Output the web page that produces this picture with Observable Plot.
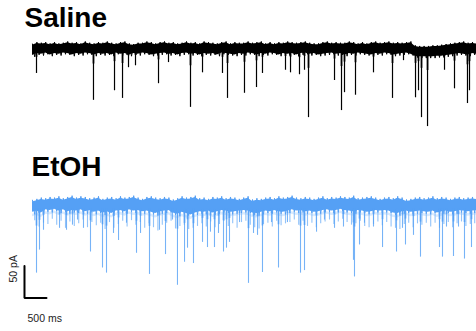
<!DOCTYPE html>
<html>
<head>
<meta charset="utf-8">
<script src="https://cdn.jsdelivr.net/npm/d3@7"></script>
<script src="https://cdn.jsdelivr.net/npm/@observablehq/plot@0.6"></script>
<style>
  html, body { margin: 0; padding: 0; background: #fff; }
  svg { display: block; }
</style>
</head>
<body>
<div id="chart"></div>
<script>
// ---- Data (time in ms, current in pA relative to each trace's baseline) ----
const conditions = ["Saline", "EtOH"];

// noise envelope sampled every 100 ms (0 … 10100 ms)
const envTime = [0,100,200,300,400,500,600,700,800,900,1000,1100,1200,1300,1400,1500,1600,1700,1800,1900,2000,2100,2200,2300,2400,2500,2600,2700,2800,2900,3000,3100,3200,3300,3400,3500,3600,3700,3800,3900,4000,4100,4200,4300,4400,4500,4600,4700,4800,4900,5000,5100,5200,5300,5400,5500,5600,5700,5800,5900,6000,6100,6200,6300,6400,6500,6600,6700,6800,6900,7000,7100,7200,7300,7400,7500,7600,7700,7800,7900,8000,8100,8200,8300,8400,8500,8600,8700,8800,8900,9000,9100,9200,9300,9400,9500,9600,9700,9800,9900,10000,10100];

const salineTop = [7,10,9,10,8,10,8,9,11,9, 10,8,11,9,8,10,9,11,9,8, 10,11,8,7,9,9,11,10,8,10, 11,9,10,8,9,11,9,10,8,11, 10,9,8,10,11,8,10,9,9,11, 9,10,11,8,10,8,10,9,11,10, 9,10,11,9,8,8,10,11,9,10, 9,9,11,10,8,10,8,10,11,9, 10,11,9,10,9,10,11,5,4,4, 4,5,5,6,7,8,9,10,11,9, 10,9];
const salineBot = [-13,-10,-11,-9,-12,-10,-11,-9,-10,-12, -10,-11,-9,-10,-12,-10,-11,-10,-12,-9, -11,-10,-12,-10,-11,-9,-10,-12,-11,-10, -9,-11,-10,-12,-10,-9,-11,-10,-12,-10, -11,-10,-12,-9,-10,-11,-12,-10,-11,-9, -10,-12,-10,-11,-9,-10,-12,-10,-11,-10, -12,-10,-9,-11,-10,-12,-11,-10,-9,-11, -10,-12,-10,-11,-9,-10,-11,-12,-10,-11, -9,-10,-12,-11,-10,-9,-11,-14,-15,-15, -15,-15,-14,-14,-13,-12,-11,-10,-11,-12, -10,-11];

const etohTop = [8,10,12,11,13,12,14,11,13,15, 12,14,13,11,12,14,10,12,13,11, 14,12,13,15,12,10,13,14,12,11, 13,12,9,11,14,12,13,15,11,12, 10,13,12,14,11,13,12,10,12,14, 9,11,10,12,13,11,14,12,13,15, 12,11,13,12,10,12,14,11,13,12, 14,13,12,15,11,12,13,14,12,10, 12,13,11,14,12,9,10,12,13,11, 12,14,11,13,12,10,12,13,11,12, 13,12];
const etohBot = [-14,-12,-15,-10,-11,-9,-12,-10,-13,-11, -12,-10,-13,-11,-14,-12,-15,-13,-16,-12, -11,-13,-10,-12,-11,-13,-12,-14,-16,-13, -12,-11,-15,-17,-14,-16,-18,-15,-13,-14, -12,-15,-13,-11,-12,-14,-13,-12,-11,-12, -15,-16,-14,-12,-13,-11,-13,-14,-12,-10, -12,-11,-13,-12,-14,-13,-11,-10,-12,-11, -9,-11,-12,-13,-11,-12,-14,-13,-11,-12, -11,-12,-15,-16,-13,-12,-14,-13,-12,-13, -14,-12,-15,-13,-12,-14,-13,-11,-12,-13, -12,-11];
const etohFringe = [-24,-34,-28,-30,-22,-31,-25,-36,-26,-33, -29,-23,-35,-27,-32,-28,-38,-27,-36,-30, -25,-34,-24,-31,-27,-36,-29,-35,-40,-31, -28,-25,-37,-33,-31,-38,-36,-33,-29,-34, -26,-35,-30,-25,-33,-29,-36,-27,-25,-31, -35,-37,-30,-28,-34,-25,-32,-29,-27,-23, -31,-25,-33,-28,-35,-29,-26,-23,-30,-26, -22,-27,-31,-29,-25,-33,-35,-30,-26,-32, -27,-34,-36,-38,-30,-28,-35,-29,-31,-28, -34,-28,-36,-30,-27,-35,-29,-26,-33,-30, -29,-25];

const salineEventTime = [91,1386,1864,2046,2182,2341,2864,3091,3591,3864,4318,4432,4818,5091,5227,5750,5864,6068,6182,6273,6864,7023,7091,7341,7750,8182,8432,8705,8773,8841,8978,9364,9591,9886,9932];
const salineEventAmp  = [-39,-81,-66,-78,-30,-27,-55,-22,-92,-38,-39,-78,-70,-61,-39,-34,-38,-41,-34,-108,-50,-97,-69,-73,-38,-78,-19,-77,-66,-108,-122,-34,-63,-86,-66];

const etohEventTime = [91,159,250,614,773,909,1023,1159,1318,1591,1682,1841,1955,2136,2364,2455,2659,2886,3023,3182,3295,3455,3523,3659,3864,3977,4045,4136,4227,4341,4409,4477,4705,4909,5023,5114,5227,5432,5591,5795,6091,6182,6455,6636,6864,7068,7295,7318,7432,7545,7750,7955,8273,8409,8477,8659,8818,9250,9318,9409,9568,9682,9818,9977];
const etohEventAmp  = [-106,-70,-39,-36,-39,-31,-23,-36,-73,-98,-106,-44,-55,-28,-75,-44,-108,-39,-77,-23,-125,-89,-67,-91,-58,-66,-42,-66,-44,-73,-67,-58,-27,-122,-44,-47,-105,-27,-98,-27,-106,-102,-42,-23,-36,-34,-86,-112,-62,-28,-34,-66,-73,-36,-62,-47,-81,-66,-81,-34,-80,-34,-84,-66];

const scaleBarTime = 500;   // ms
const scaleBarCurrent = 50; // pA
const scaleBarLabels = ["500 ms", "50 pA"];

// ---- Layout (vertical offsets of each trace, in pA units of the shared y scale) ----
const offset = {Saline: 0, EtOH: -245};
const barOrigin = {t: -182, v: -390};
const half = 50; // half-step for the noise zig-zag

const envSaline = envTime.map((t, i) => ({t, top: salineTop[i] + offset.Saline, bot: salineBot[i] + offset.Saline}));
const envEtoh = envTime.map((t, i) => ({t, top: etohTop[i] + offset.EtOH, bot: etohBot[i] + offset.EtOH, fr: etohFringe[i] + offset.EtOH}));
const zigSaline = envSaline.flatMap(d => [{t: d.t, v: d.top}, {t: d.t + half, v: d.bot}]);
const zigEtoh = envEtoh.flatMap(d => [{t: d.t, v: d.top}, {t: d.t + half, v: d.bot}]);
const evSaline = salineEventTime.map((t, i) => ({t, base: offset.Saline - 4, amp: salineEventAmp[i], peak: salineEventAmp[i] + offset.Saline}));
const evEtoh = etohEventTime.map((t, i) => ({t, base: offset.EtOH - 6, amp: etohEventAmp[i], peak: etohEventAmp[i] + offset.EtOH}));

const bar = [
  {t: barOrigin.t, v: barOrigin.v + scaleBarCurrent},
  {t: barOrigin.t, v: barOrigin.v},
  {t: barOrigin.t + scaleBarTime, v: barOrigin.v}
];

const black = "#000";
const blue = "#55a0f5";
const midBlue = "#7fb8f8";
const lightBlue = "#b4d6fb";

const chart = Plot.plot({
  width: 476,
  height: 331,
  margin: 0,
  x: {domain: [0, 10000], range: [32, 472], axis: null},
  y: {domain: [75, -442.2], range: [0, 331], axis: null},
  style: {fontFamily: "Liberation Sans, Arial, sans-serif", background: "#fff"},
  marks: [
    // Saline trace
    Plot.areaY(envSaline, {x: "t", y1: d => d.bot + 2, y2: d => d.top - 2, fill: black, curve: "linear"}),
    Plot.line(zigSaline, {x: "t", y: "v", stroke: black, strokeWidth: 1, curve: "linear"}),
    Plot.ruleX(evSaline, {x: "t", y1: "base", y2: d => d.base + d.amp * 0.25, stroke: black, strokeWidth: 1.7}),
    Plot.ruleX(evSaline, {x: "t", y1: "base", y2: "peak", stroke: black, strokeWidth: 1.2}),
    // EtOH trace
    Plot.areaY(envEtoh, {x: "t", y1: d => d.bot - 4, y2: "bot", fill: lightBlue, fillOpacity: 0.5, curve: "linear"}),
    Plot.ruleX(envEtoh, {x: d => d.t + half, y1: "bot", y2: "fr", stroke: midBlue, strokeWidth: 1.1, strokeOpacity: 0.85}),
    Plot.areaY(envEtoh, {x: "t", y1: d => d.bot + 3, y2: d => d.top - 3, fill: blue, curve: "linear"}),
    Plot.line(zigEtoh, {x: "t", y: "v", stroke: blue, strokeWidth: 1, curve: "linear"}),
    Plot.ruleX(evEtoh, {x: "t", y1: "base", y2: d => d.base + d.amp * 0.25, stroke: blue, strokeWidth: 1.6, strokeOpacity: 0.9}),
    Plot.ruleX(evEtoh, {x: "t", y1: "base", y2: "peak", stroke: blue, strokeWidth: 1.1, strokeOpacity: 0.8}),
    // Scale bar
    Plot.line(bar, {x: "t", y: "v", stroke: black, strokeWidth: 2, strokeLinejoin: "miter"}),
    Plot.text([scaleBarLabels[0]], {frameAnchor: "top-left", dx: 27, dy: 318, lineAnchor: "middle", text: d => d, textAnchor: "start", fontSize: 10.5, fill: "#222"}),
    Plot.text([scaleBarLabels[1]], {frameAnchor: "top-left", dx: 13, dy: 282, lineAnchor: "middle", text: d => d, rotate: -90, fontSize: 10.5, fill: "#222"}),
    // Titles
    Plot.text([conditions[0]], {frameAnchor: "top-left", dx: 24, dy: 18, lineAnchor: "middle", text: d => d, textAnchor: "start", fontSize: 28, fontWeight: "bold", fill: black}),
    Plot.text([conditions[1]], {frameAnchor: "top-left", dx: 31, dy: 167, lineAnchor: "middle", text: d => d, textAnchor: "start", fontSize: 28, fontWeight: "bold", fill: black})
  ]
});
document.getElementById("chart").appendChild(chart);
</script>
</body>
</html>
